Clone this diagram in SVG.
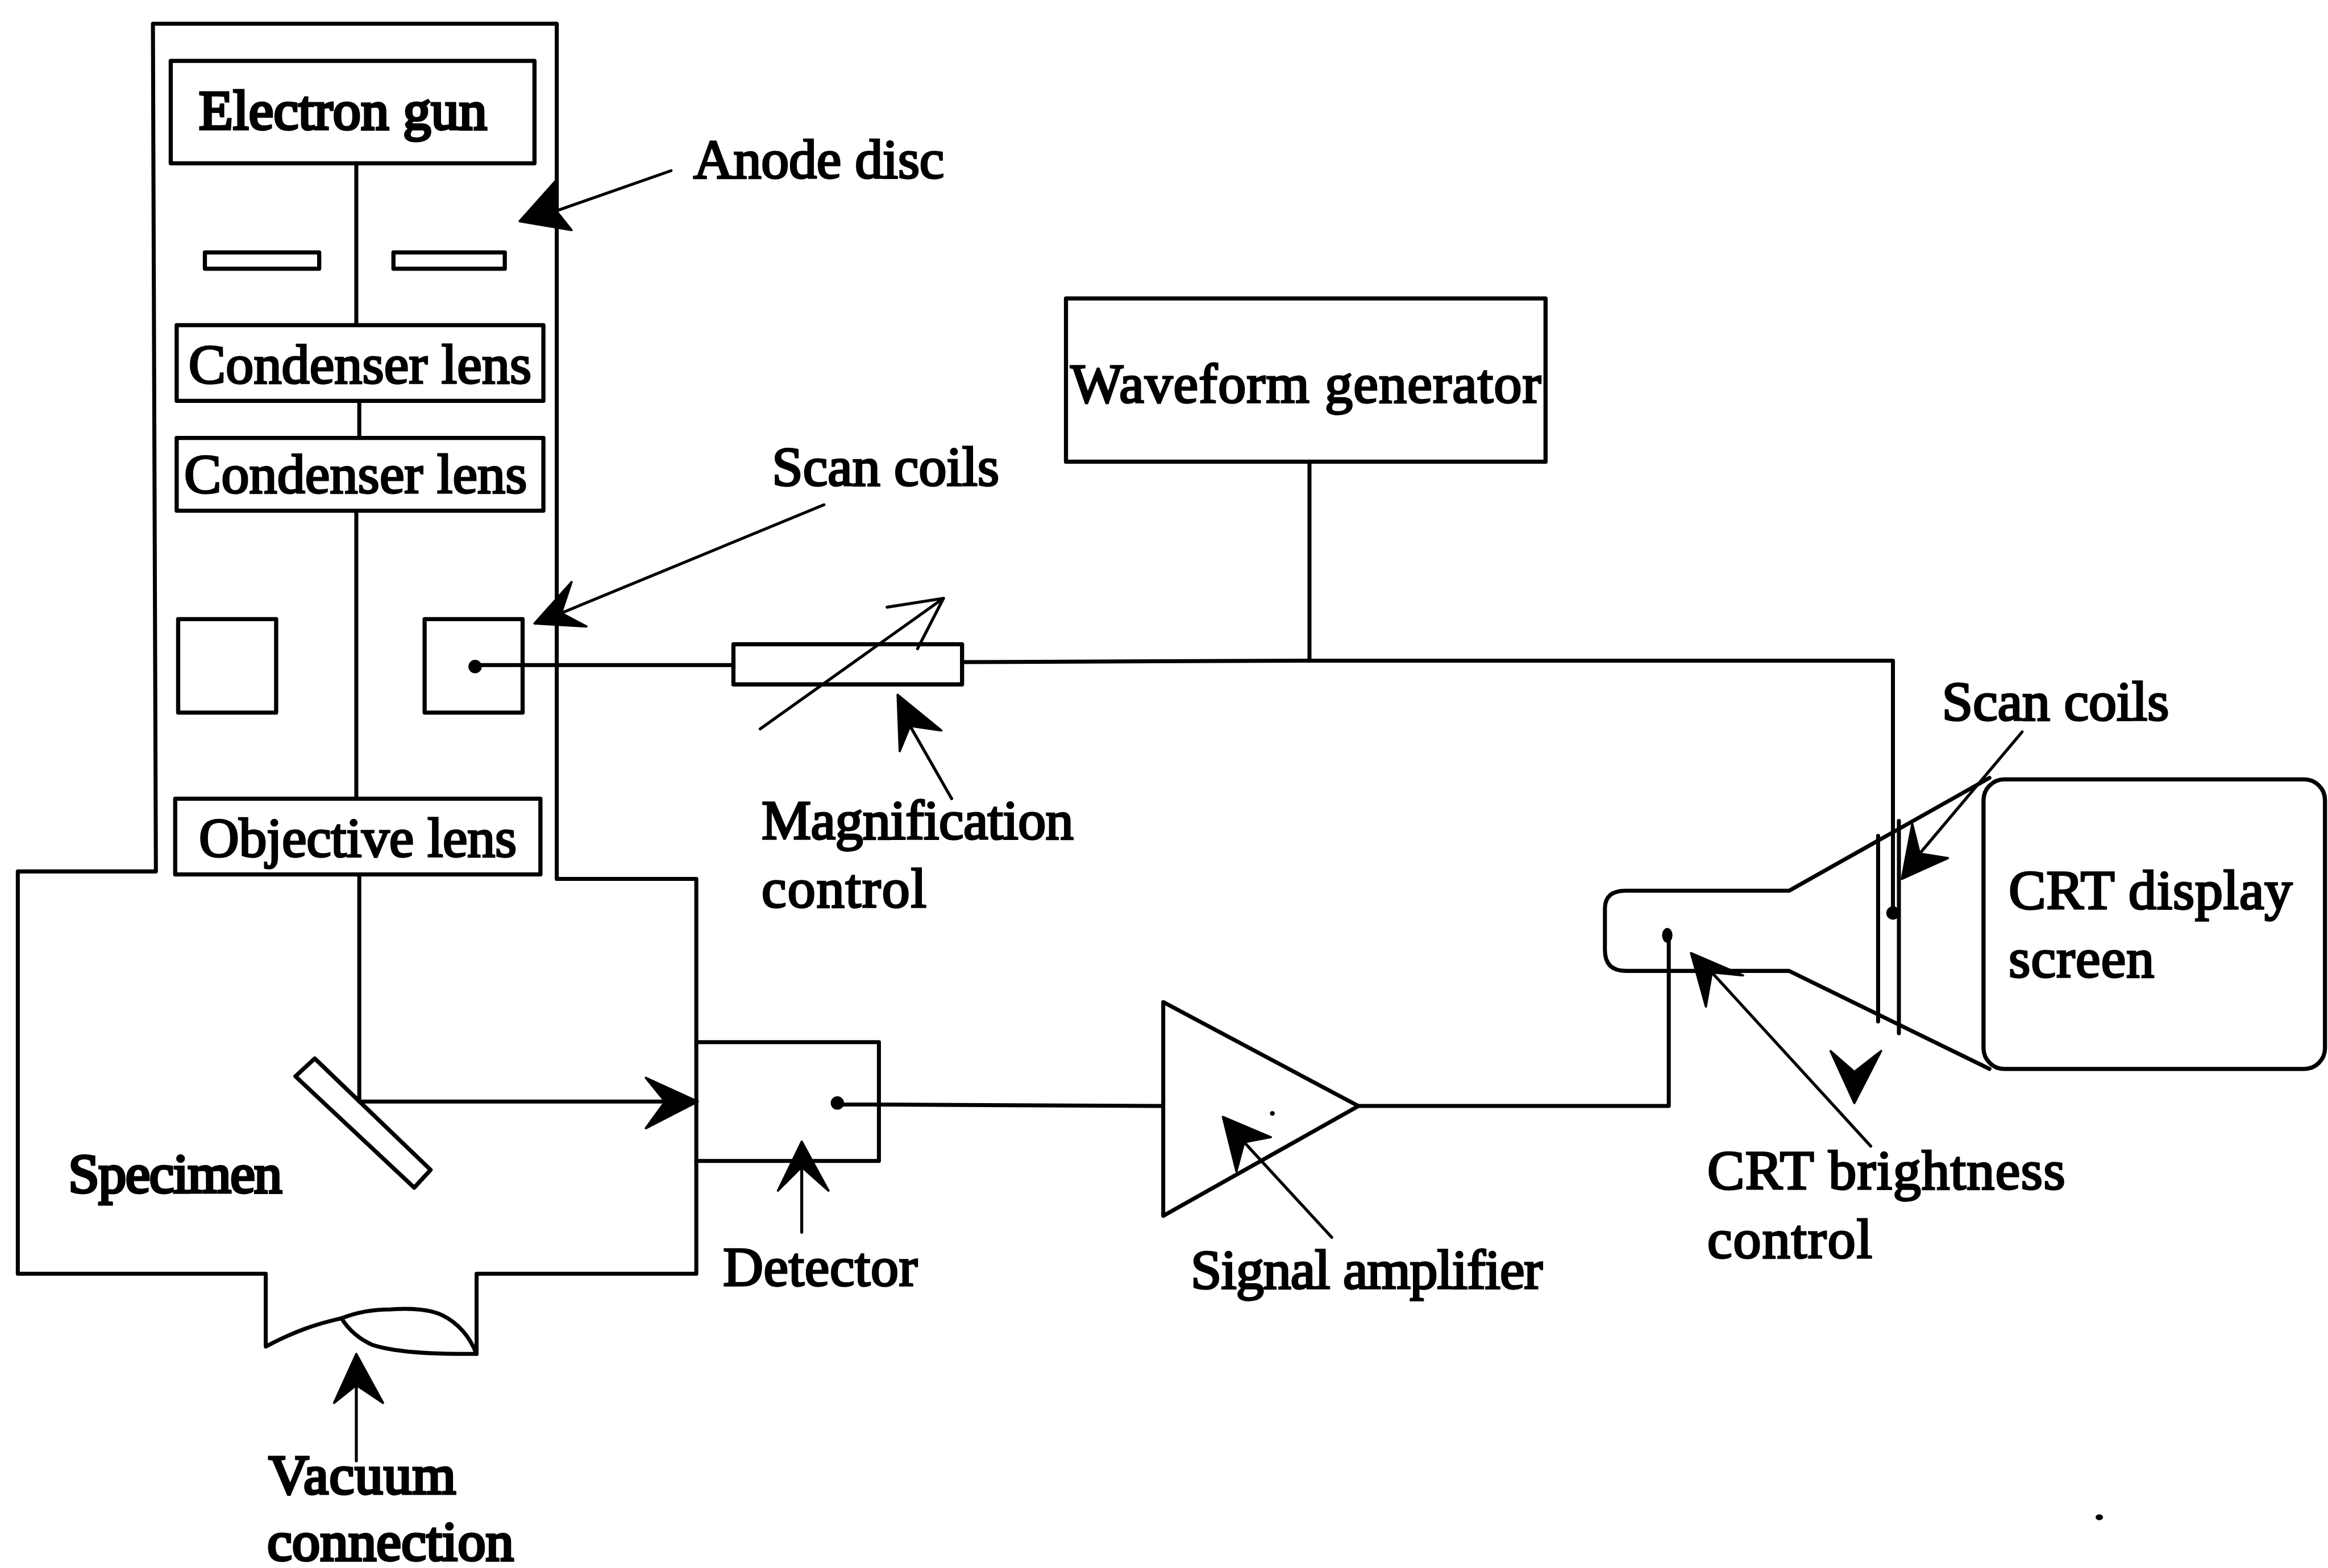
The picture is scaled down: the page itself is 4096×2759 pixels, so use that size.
<svg xmlns="http://www.w3.org/2000/svg" width="4096" height="2759" viewBox="0 0 4096 2759">
<style>
.s{fill:none;stroke:#000;stroke-width:2.7;stroke-linejoin:round;stroke-linecap:round}
.t{stroke:#000;stroke-width:2;fill:none;stroke-linecap:round;stroke-linejoin:round}
.b{fill:#fff;stroke:#000;stroke-width:2.8;stroke-linejoin:round}
.h{fill:#000;stroke:#000;stroke-width:1.5;stroke-linejoin:round}
text{font-family:"Liberation Serif","Times New Roman",serif;font-size:37.5px;fill:#000;stroke:#000;stroke-width:1.35}
.k{stroke-width:1.9}
</style>
<rect width="4096" height="2759" fill="#fff"/>
<g transform="scale(2.6122)">
<g id="chamber"><path class="s" d="M103 16H375V592H469V858H321V912C300 912 270 912 251 906C242 902 235 896 230 888C212 892 198 897 179 907V858H12V587H105L103 16Z"/><path class="s" d="M230 888C240 884 252 882 263 882C278 881 290 882 298 886C310 892 317 902 321 912"/></g>
<g id="electron-gun"><rect class="b" x="115" y="41" width="245" height="69"/><text x="134" y="87" textLength="194" class="k">Electron gun</text></g>
<g id="anode-disc"><rect class="b" x="138" y="170" width="77" height="11"/><rect class="b" x="265" y="170" width="75" height="11"/><text x="467" y="120" textLength="169">Anode disc</text></g>
<g id="condenser-1"><rect class="b" x="119" y="219" width="247" height="51"/><text x="127" y="258" textLength="231">Condenser lens</text></g>
<g id="condenser-2"><rect class="b" x="119" y="295" width="247" height="49"/><text x="124" y="332" textLength="231">Condenser lens</text></g>
<g id="scan-coils-column"><rect class="b" x="120" y="417" width="66" height="63"/><rect class="b" x="286" y="417" width="66" height="63"/><circle cx="320" cy="449" r="4.5"/><text x="520" y="327" textLength="153">Scan coils</text></g>
<g id="objective-lens"><rect class="b" x="118" y="538" width="246" height="51"/><text x="134" y="577" textLength="214">Objective lens</text></g>
<g id="specimen"><path class="b" d="M199 725L212 713L290 788L279 800Z"/><text x="46" y="803" textLength="144" class="k">Specimen</text></g>
<g id="detector"><path class="s" d="M469 702H592V782H469"/><circle cx="564" cy="743" r="4.5"/><text x="487" y="866" textLength="131">Detector</text></g>
<g id="magnification-control"><rect class="b" x="494" y="434" width="154" height="27"/><text x="513" y="565" textLength="210">Magnification</text><text x="513" y="611" textLength="111">control</text></g>
<g id="waveform-generator"><rect class="b" x="718" y="201" width="323" height="110"/><text x="721" y="271" textLength="317">Waveform generator</text></g>
<g id="signal-amplifier"><path class="s" d="M783.500 675L915 745L783.500 819Z"/><circle cx="857" cy="750" r="1.6"/><text x="802" y="868" textLength="237">Signal amplifier</text></g>
<g id="crt"><path class="s" d="M1340 524L1205 600H1095Q1081 600 1081 612V640Q1081 654 1095 654H1205L1340 720"/><rect class="b" x="1336" y="525" width="230" height="195" rx="14"/><path class="s" d="M1265 563V688M1279 553V696"/><circle cx="1275" cy="615" r="4.500"/><ellipse cx="1123" cy="630" rx="3.500" ry="5"/><text x="1353" y="612" textLength="191">CRT display</text><text x="1353" y="658" textLength="98">screen</text><text x="1308" y="485" textLength="153">Scan coils</text><text x="1150" y="801" textLength="241">CRT brightness</text><text x="1150" y="847" textLength="111">control</text></g>
<g id="vacuum-connection"><text x="181" y="1006" textLength="126" class="k">Vacuum</text><text x="180" y="1051" textLength="166" class="k">connection</text></g>
<ellipse cx="1414" cy="1022" rx="2.500" ry="2"/>
<g id="connectors">
<path class="s" d="M240 110V218M242 270V295M240 344V538M242 589V742H460"/>
<path class="s" d="M320 448H494M648 446L882 445H1275V612M882 311V445"/>
<path class="s" d="M564 744H592L782 745M915 745H1124V630"/>
<path class="t" d="M512 491L635.500 403M597.500 409L635.500 403L618 437"/>
<path class="t" d="M452 115L372 143M555 340L378 413M641 538L613 489M1362 493L1293 575M1260 772L1153 655M897 833.500L838 769.400M540 830V786M240 984V933"/>
<g id="arrowheads">
<path class="h" d="M350 149L375 121L373 140L385 155Z"/>
<path class="h" d="M360 420L385 392L378 413L395 422Z"/>
<path class="h" d="M604.600 468L634 492L613 489L606 506Z"/>
<path class="h" d="M1281 592L1288 555L1293 575L1312 578Z"/>
<path class="h" d="M1139 642L1174 657L1153 655L1149 678Z"/>
<path class="h" d="M823.700 752.400L856 766L838 769.400L832.800 789Z"/>
<path class="h" d="M470 742L435 726L448 742L435 760Z"/>
<path class="h" d="M540 769L524 802L540 786L558 802Z"/>
<path class="h" d="M240 912L225 945L240 933L258 945Z"/>
<path class="h" d="M1249 743L1233 708L1249 722L1267 708Z"/>
</g>
</g>
</g>
</svg>
